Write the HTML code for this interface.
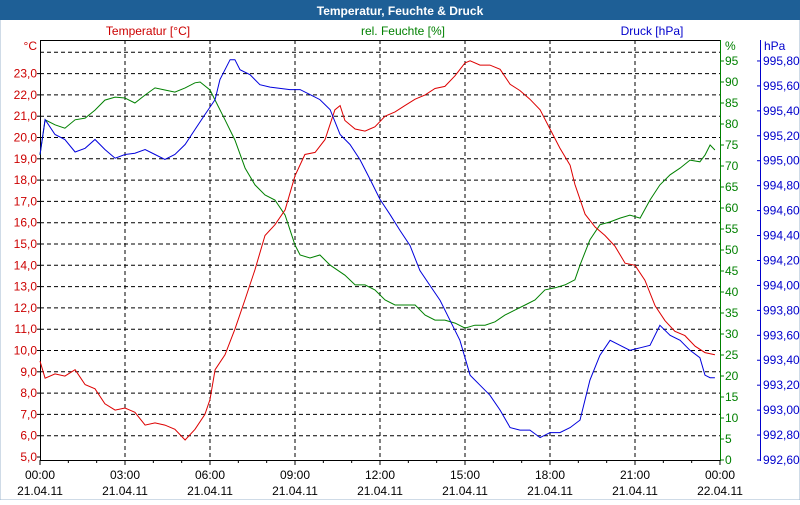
<!DOCTYPE html>
<html><head><meta charset="utf-8"><style>
body{margin:0;width:800px;height:500px;overflow:hidden;background:#fff;font-family:"Liberation Sans",sans-serif}
</style></head><body>
<svg id="chart" width="800" height="500" xmlns="http://www.w3.org/2000/svg" font-family="Liberation Sans, sans-serif" font-size="12">
<rect x="0" y="0" width="800" height="500" fill="#fff" stroke="#9fb7cf"/>
<rect x="0" y="0" width="800" height="20" fill="#1e5f96"/>
<text x="400" y="15" text-anchor="middle" fill="#fff" font-weight="bold">Temperatur, Feuchte &amp; Druck</text>
<text x="148" y="35" text-anchor="middle" fill="#cc0000">Temperatur [°C]</text>
<text x="403" y="35" text-anchor="middle" fill="#008000">rel. Feuchte [%]</text>
<text x="652" y="35" text-anchor="middle" fill="#0000cc">Druck [hPa]</text>
<text x="37" y="50" text-anchor="end" fill="#cc0000">°C</text>
<text x="725" y="50" fill="#008000">%</text>
<text x="764" y="50" fill="#0000cc">hPa</text>
<g id="grid"></g><g id="axes"></g><g id="series"></g>
</svg>
<script>
const tempTicks=[5,6,7,8,9,10,11,12,13,14,15,16,17,18,19,20,21,22,23];
const humTicks=[0,5,10,15,20,25,30,35,40,45,50,55,60,65,70,75,80,85,90,95];
const presTicks=[992.6,992.8,993.0,993.2,993.4,993.6,993.8,994.0,994.2,994.4,994.6,994.8,995.0,995.2,995.4,995.6,995.8];
const timeLabels=["00:00","03:00","06:00","09:00","12:00","15:00","18:00","21:00","00:00"];
const dateLabels=["21.04.11","21.04.11","21.04.11","21.04.11","21.04.11","21.04.11","21.04.11","21.04.11","22.04.11"];
const tempTimes=[0,0.18,0.53,0.88,1.24,1.59,1.94,2.29,2.65,3,3.35,3.71,4.06,4.41,4.76,5.12,5.47,5.82,6,6.18,6.53,6.88,7.24,7.59,7.94,8.29,8.65,9,9.35,9.71,10.06,10.41,10.59,10.76,11.12,11.47,11.82,12.18,12.53,12.88,13.24,13.59,13.94,14.29,14.65,15,15.18,15.53,15.88,16.24,16.59,16.94,17.29,17.65,18,18.35,18.71,18.88,19.24,19.59,19.94,20.29,20.65,21,21.35,21.71,22.06,22.41,22.76,23.12,23.47,23.82];
const tempValues=[9.5,8.7,8.9,8.8,9.1,8.4,8.2,7.5,7.2,7.3,7.1,6.5,6.6,6.5,6.3,5.8,6.3,7.0,7.7,9.1,9.8,11.0,12.4,13.8,15.4,15.9,16.6,18.2,19.2,19.3,19.9,21.3,21.5,20.8,20.4,20.3,20.5,21.0,21.2,21.5,21.8,22.0,22.3,22.4,22.9,23.5,23.6,23.4,23.4,23.2,22.5,22.2,21.8,21.3,20.4,19.5,18.7,17.8,16.4,15.8,15.4,14.9,14.1,14.0,13.3,12.1,11.4,10.9,10.7,10.2,9.9,9.8];
const humTimes=[0,0.18,0.53,0.88,1.24,1.59,1.94,2.29,2.65,3,3.35,3.71,4.06,4.41,4.76,5.12,5.47,5.65,6,6.18,6.53,6.88,7.24,7.59,7.94,8.29,8.65,9,9.18,9.53,9.88,10.24,10.76,11.12,11.47,11.82,12.18,12.53,12.88,13.24,13.59,13.94,14.29,14.65,15,15.35,15.71,16.06,16.41,16.76,17.12,17.47,17.82,18.18,18.53,18.88,19.06,19.41,19.76,20.12,20.47,20.82,21.18,21.53,21.88,22.24,22.59,22.94,23.29,23.47,23.65,23.82];
const humValues=[72.6,81,79.8,79,81,81.4,83.3,85.7,86.4,86.2,85,86.9,88.6,88.1,87.6,88.6,89.8,90,88.1,85.7,81,76.2,69.5,65.5,63.1,61.9,58.3,51.2,48.8,48.1,48.8,46.4,44,41.7,41.7,40.5,38.1,36.9,36.9,36.9,34.5,33.3,33.3,32.6,31.4,32.1,32.1,32.9,34.5,35.7,36.9,38.1,40.5,41,41.7,42.9,46.4,52.4,56,56.7,57.6,58.3,57.6,61.9,65.5,67.9,69.5,71.4,71,72.6,75,73.8];
const presTimes=[0,0.18,0.53,0.88,1.24,1.59,1.94,2.29,2.65,3,3.35,3.71,4.06,4.41,4.76,5.12,5.47,5.82,6.18,6.35,6.71,6.88,7.06,7.41,7.76,8.12,8.47,8.82,9.18,9.53,9.88,10.24,10.59,10.94,11.29,11.65,12,12.35,12.71,13.06,13.41,13.76,14.12,14.47,14.82,15.18,15.53,15.88,16.24,16.59,16.94,17.29,17.65,18,18.35,18.71,19.06,19.41,19.76,20.12,20.47,20.82,21.18,21.53,21.88,22.24,22.59,22.94,23.29,23.47,23.65,23.82];
const presValues=[995.05,995.33,995.21,995.17,995.07,995.10,995.17,995.09,995.02,995.05,995.06,995.09,995.05,995.01,995.05,995.13,995.25,995.37,995.49,995.65,995.81,995.81,995.73,995.69,995.61,995.59,995.58,995.57,995.57,995.53,995.49,995.41,995.21,995.13,995.01,994.85,994.69,994.57,994.44,994.32,994.12,994.00,993.88,993.72,993.56,993.28,993.20,993.12,993.00,992.86,992.84,992.84,992.78,992.82,992.82,992.86,992.92,993.24,993.44,993.56,993.52,993.48,993.50,993.52,993.68,993.60,993.56,993.48,993.42,993.28,993.26,993.26];

const NS="http://www.w3.org/2000/svg";
const L=40,R=720,T=40,B=460;
const xS=h=>L+h/24*(R-L);
const yT=t=>457-(t-5)*21.3;
const yH=v=>460-v*4.2;
const yP=p=>460-(p-992.6)/0.2*24.94;
function mk(tag,attrs,parent){const e=document.createElementNS(NS,tag);for(const k in attrs)e.setAttribute(k,attrs[k]);parent.appendChild(e);return e;}
const grid=document.getElementById('grid'),axes=document.getElementById('axes'),ser=document.getElementById('series');
// horizontal grid
for(let t=6;t<=24;t++){
  const g=mk('line',{x1:L,x2:R,y1:yT(t),y2:yT(t),stroke:'#000','stroke-dasharray':'4,3'},grid);
  
  
}
for(let i=1;i<8;i++){
  const x=xS(i*3);
  const g=mk('line',{x1:x,x2:x,y1:T,y2:B,stroke:'#000','stroke-dasharray':'4,3'},grid);
  
  
}
// frame
mk('line',{x1:L,x2:R,y1:T+0.5,y2:T+0.5,stroke:'#000'},axes);
const xa=mk('line',{x1:L,x2:R,y1:B+0.5,y2:B+0.5,stroke:'#000'},axes);


const ya=mk('line',{x1:L+0.5,x2:L+0.5,y1:T,y2:B,stroke:'#000'},axes);


const ha=mk('line',{x1:R+0.5,x2:R+0.5,y1:T,y2:B+1,stroke:'#008000'},axes);


const pa=mk('line',{x1:760.5,x2:760.5,y1:T,y2:B+1,stroke:'#0000cc'},axes);


for(let h=0;h<=24;h++){mk('line',{x1:xS(h),x2:xS(h),y1:B,y2:B+(h%3?3:5),stroke:'#000'},axes);}
tempTicks.forEach(t=>{
  const y=yT(t);
  mk('line',{x1:L-3,x2:L,y1:y,y2:y,stroke:'#000'},axes);
  const e=mk('text',{x:37,y:y+4,'text-anchor':'end',fill:'#cc0000'},axes);e.textContent=t.toFixed(1).replace('.',',');
  
  
});
humTicks.forEach(v=>{
  const y=yH(v);
  mk('line',{x1:R,x2:R+4,y1:y,y2:y,stroke:'#008000'},axes);
  const e=mk('text',{x:725,y:y+4,fill:'#008000'},axes);e.textContent=v;
  
  
});
presTicks.forEach(p=>{
  const y=yP(p);
  mk('line',{x1:757,x2:760,y1:y,y2:y,stroke:'#0000cc'},axes);
  const e=mk('text',{x:763,y:y+4,fill:'#0000cc'},axes);e.textContent=p.toFixed(2).replace('.',',');
  
  
});
timeLabels.forEach((s,i)=>{
  const x=xS(i*3);
  const e=mk('text',{x:x,y:479,'text-anchor':'middle',fill:'#000'},axes);e.textContent=s;
  
  
  const d=mk('text',{x:x,y:495,'text-anchor':'middle',fill:'#000'},axes);d.textContent=dateLabels[i];
  
  
});
function line(times,vals,ys,color,name){
  const pts=times.map((h,i)=>xS(h).toFixed(1)+','+ys(vals[i]).toFixed(1)).join(' ');
  const p=mk('polyline',{points:pts,fill:'none',stroke:color,'stroke-width':1},ser);
  
  
}
line(humTimes,humValues,yH,'#008000','humidity-line');
line(tempTimes,tempValues,yT,'#dd0000','temperature-line');
line(presTimes,presValues,yP,'#0000dd','pressure-line');
</script>
</body></html>
